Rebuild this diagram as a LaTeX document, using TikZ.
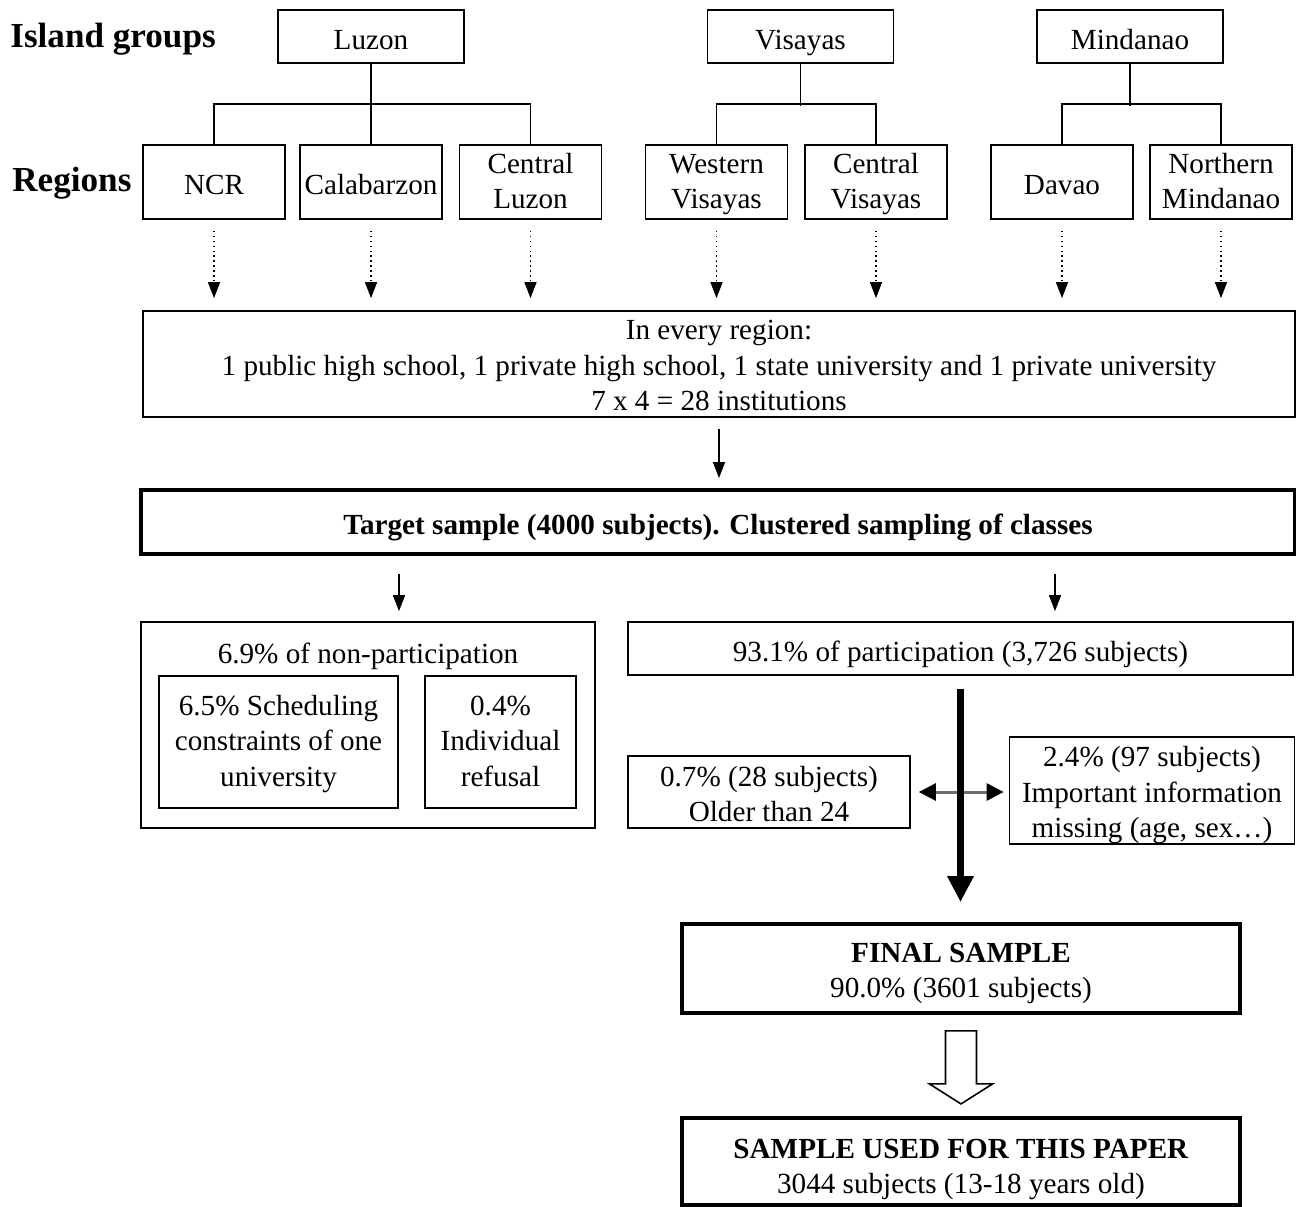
\documentclass[tikz,border=0pt]{standalone}
\usepackage{fontspec}
\setmainfont{Liberation Serif}
\usepackage{tikz}
\definecolor{ink}{HTML}{000000}
\definecolor{inkgray}{HTML}{6E6E6E}
\usetikzlibrary{
  arrows.meta,
  positioning,
  calc
}
% struts that put the text a little low in its box, as in the scan
\newcommand{\topstrut}{\rule[-3.8pt]{0pt}{22.1pt}}
\newcommand{\botstrut}{\rule[-3.8pt]{0pt}{3.8pt}}
\newcommand{\firstline}[1]{\rule{0pt}{#1}}
\tikzset{
  >={Triangle[length=0.32cm,width=0.24cm]},
  every node/.style={font=\fontsize{16.6}{20}\selectfont, text=ink},
  block/.style={draw=ink, line width=1pt, align=center, inner xsep=2pt, inner ysep=0pt,
    execute at begin node=\topstrut, execute at end node=\botstrut},
  blockB/.style={block, line width=2.2pt},
  islbox/.style={block, minimum width=3.72cm, minimum height=1.06cm},
  regbox/.style={block, minimum width=2.84cm, minimum height=1.48cm},
  head/.style={font=\fontsize{20}{24}\selectfont\bfseries, anchor=west, inner sep=0pt},
  bold/.style={font=\fontsize{16.6}{20}\selectfont\bfseries},
  tree/.style={draw=ink, line width=1pt},
  arrow/.style={->, line width=0.8pt, draw=ink},
  dotarrow/.style={arrow, dotted, shorten <=0.22cm, shorten >=0.24cm},
  bigarrow/.style={-{Triangle[length=0.52cm,width=0.5cm]}, line width=4.5pt, draw=ink},
  twoway/.style={{Triangle[length=0.34cm,width=0.34cm,color=ink]}-{Triangle[length=0.34cm,width=0.34cm,color=ink]},
    line width=1.7pt, draw=inkgray},
  hollow/.style={draw=ink, fill=white, line width=0.9pt, line join=miter}
}

\begin{document}
\begin{tikzpicture}[x=0.02cm, y=-0.02cm]
  \useasboundingbox (0,0) rectangle (1296,1207);

  \node[head] (islandlbl) at (10,39) {Island groups};
  \node[head] (regionlbl) at (12,183) {Regions};

  % island groups
  \node[islbox] (luzon) at (371,36.5) {Luzon};
  \node[islbox] (visayas) at (800.5,36.5) {Visayas};
  \node[islbox] (mindanao) at (1130,36.5) {Mindanao};

  % regions
  \node[regbox] (ncr) at (214,182) {NCR};
  \node[regbox] (calab) at (371,182) {Calabarzon};
  \node[regbox] (cluzon) at (530.5,182) {\firstline{14.3pt}Central\\Luzon};
  \node[regbox] (wvis) at (716.5,182) {\firstline{14.3pt}Western\\Visayas};
  \node[regbox] (cvis) at (876,182) {\firstline{14.3pt}Central\\Visayas};
  \node[regbox] (davao) at (1062,182) {Davao};
  \node[regbox] (nmin) at (1221,182) {\firstline{14.3pt}Northern\\Mindanao};

  \draw[tree] (luzon.south) -- (calab.north);
  \draw[tree] (ncr.north) -- ++(0,-40) -| (cluzon.north);
  \draw[tree] (visayas.south) -- ++(0,42);
  \draw[tree] (wvis.north) -- ++(0,-40) -| (cvis.north);
  \draw[tree] (mindanao.south) -- ++(0,42);
  \draw[tree] (davao.north) -- ++(0,-40) -| (nmin.north);

  \node[block, minimum width=23.04cm, minimum height=2.12cm] (every) at (719,364)
    {\firstline{16.4pt}In every region:\\1 public high school, 1 private high school, 1 state university and 1 private university\\7 x 4 = 28 institutions};
  \foreach \r in {ncr,calab,cluzon,wvis,cvis,davao,nmin}
    \draw[dotarrow] (\r.south) -- (\r.south |- every.north);

  \node[blockB, bold, minimum width=23.08cm, minimum height=1.28cm] (target) at (718,522)
    {Target sample (4000 subjects). Clustered sampling of classes};
  \draw[arrow, shorten <=0.22cm, shorten >=0.2cm] (every.south) -- (every.south |- target.north);

  % non-participation
  \node[block, minimum width=9.08cm, minimum height=4.12cm] (nonpart) at (368,725) {};
  \node (nonparttitle) at (368,656) {6.9\% of non-participation};
  \node[block, minimum width=4.78cm, minimum height=2.64cm] (sched) at (278.5,742)
    {\firstline{14pt}6.5\% Scheduling\\constraints of one\\university};
  \node[block, minimum width=3.02cm, minimum height=2.64cm] (refusal) at (500.5,742)
    {\firstline{14pt}0.4\%\\Individual\\refusal};

  % participation
  \node[block, minimum width=13.3cm, minimum height=1.06cm] (part) at (960.5,648.5)
    {93.1\% of participation (3,726 subjects)};

  \coordinate (lsplit) at ($(nonpart.north)+(31,0)$);
  \coordinate (rsplit) at ($(part.north)+(94.5,0)$);
  \draw[arrow, shorten <=0.36cm, shorten >=0.2cm] (lsplit |- target.south) -- (lsplit);
  \draw[arrow, shorten <=0.36cm, shorten >=0.2cm] (rsplit |- target.south) -- (rsplit);

  \node[block, minimum width=5.64cm, minimum height=1.44cm] (older) at (769,792)
    {\firstline{17pt}0.7\% (28 subjects)\\Older than 24};
  \node[block, minimum width=5.7cm, minimum height=2.14cm] (missing) at (1152,790.5)
    {\firstline{16.9pt}2.4\% (97 subjects)\\Important information\\missing (age, sex\ldots)};

  \node[blockB, minimum width=11.16cm, minimum height=1.78cm] (final) at (961,968.5)
    {\firstline{16.8pt}\textbf{FINAL SAMPLE}\\90.0\% (3601 subjects)};

  \draw[twoway, shorten <=0.16cm, shorten >=0.1cm] (older.east) -- (older.east -| missing.west);
  \draw[bigarrow, shorten <=0.26cm, shorten >=0.4cm] (part.south) -- (part.south |- final.north);

  \node[blockB, minimum width=11.16cm, minimum height=1.74cm] (used) at (961,1161.5)
    {\firstline{20.5pt}\textbf{SAMPLE USED FOR THIS PAPER}\\3044 subjects (13-18 years old)};

  % hollow arrow
  \draw[hollow] ($(final.south)+(-15.5,16)$) -- ++(0,53) -- ++(-16,0) -- ++(31.5,20)
    -- ++(31.5,-20) -- ++(-16,0) -- ++(0,-53) -- cycle;
\end{tikzpicture}
\end{document}
